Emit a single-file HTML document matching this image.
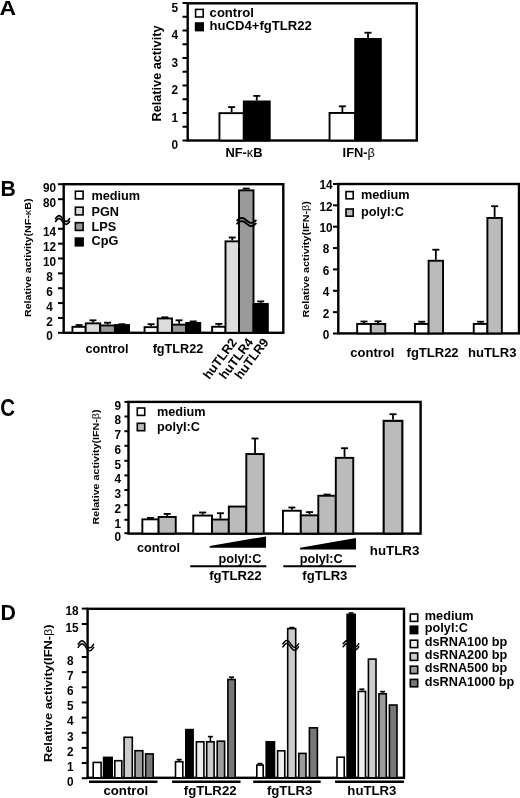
<!DOCTYPE html>
<html><head><meta charset="utf-8"><title>Figure</title>
<style>
html,body{margin:0;padding:0;background:#fff;}
body{width:520px;height:798px;overflow:hidden;}
svg{display:block;}
text{font-family:'Liberation Sans', Arial, sans-serif;font-weight:bold;fill:#000;}
</style></head>
<body>
<svg width="520" height="798" viewBox="0 0 520 798">
<rect width="520" height="798" fill="#fff"/>
<text transform="translate(-0.4,15.3) scale(1.12,1.03)" font-size="20.5">A</text>
<rect x="187.70" y="3.30" width="229.10" height="137.20" fill="none" stroke="#000" stroke-width="2.4"/>
<line x1="182.50" y1="140.50" x2="187.70" y2="140.50" stroke="#000" stroke-width="2.0"/>
<line x1="182.50" y1="126.75" x2="187.70" y2="126.75" stroke="#000" stroke-width="2.0"/>
<line x1="182.50" y1="113.00" x2="187.70" y2="113.00" stroke="#000" stroke-width="2.0"/>
<line x1="182.50" y1="99.25" x2="187.70" y2="99.25" stroke="#000" stroke-width="2.0"/>
<line x1="182.50" y1="85.50" x2="187.70" y2="85.50" stroke="#000" stroke-width="2.0"/>
<line x1="182.50" y1="71.75" x2="187.70" y2="71.75" stroke="#000" stroke-width="2.0"/>
<line x1="182.50" y1="58.00" x2="187.70" y2="58.00" stroke="#000" stroke-width="2.0"/>
<line x1="182.50" y1="44.25" x2="187.70" y2="44.25" stroke="#000" stroke-width="2.0"/>
<line x1="182.50" y1="30.50" x2="187.70" y2="30.50" stroke="#000" stroke-width="2.0"/>
<line x1="182.50" y1="16.75" x2="187.70" y2="16.75" stroke="#000" stroke-width="2.0"/>
<line x1="182.50" y1="3.00" x2="187.70" y2="3.00" stroke="#000" stroke-width="2.0"/>
<text transform="translate(174.80,149.00) scale(1,1.12)" font-size="11.8" text-anchor="middle">0</text>
<text transform="translate(174.80,121.50) scale(1,1.12)" font-size="11.8" text-anchor="middle">1</text>
<text transform="translate(174.80,94.00) scale(1,1.12)" font-size="11.8" text-anchor="middle">2</text>
<text transform="translate(174.80,66.50) scale(1,1.12)" font-size="11.8" text-anchor="middle">3</text>
<text transform="translate(174.80,39.00) scale(1,1.12)" font-size="11.8" text-anchor="middle">4</text>
<text transform="translate(174.80,11.50) scale(1,1.12)" font-size="11.8" text-anchor="middle">5</text>
<text transform="translate(160.60,73.50) rotate(-90)" font-size="12.7" text-anchor="middle">Relative activity</text>
<rect x="195.60" y="9.40" width="7.60" height="7.60" fill="#fff" stroke="#000" stroke-width="1.6"/>
<rect x="195.60" y="23.00" width="7.60" height="7.60" fill="#000" stroke="#000" stroke-width="1.6"/>
<text x="209.60" y="16.60" font-size="13.1" text-anchor="start" >control</text>
<text x="209.60" y="30.40" font-size="13.1" text-anchor="start" >huCD4+fgTLR22</text>
<line x1="231.62" y1="112.20" x2="231.62" y2="107.10" stroke="#000" stroke-width="1.8"/>
<line x1="228.12" y1="107.10" x2="235.12" y2="107.10" stroke="#000" stroke-width="1.8"/>
<rect x="219.45" y="113.15" width="24.35" height="27.35" fill="#fff" stroke="#000" stroke-width="1.9"/>
<line x1="256.77" y1="100.50" x2="256.77" y2="95.90" stroke="#000" stroke-width="1.8"/>
<line x1="253.27" y1="95.90" x2="260.27" y2="95.90" stroke="#000" stroke-width="1.8"/>
<rect x="243.80" y="101.45" width="25.95" height="39.05" fill="#000" stroke="#000" stroke-width="1.9"/>
<line x1="342.38" y1="112.00" x2="342.38" y2="106.30" stroke="#000" stroke-width="1.8"/>
<line x1="338.88" y1="106.30" x2="345.88" y2="106.30" stroke="#000" stroke-width="1.8"/>
<rect x="329.55" y="112.95" width="25.65" height="27.55" fill="#fff" stroke="#000" stroke-width="1.9"/>
<line x1="368.02" y1="38.00" x2="368.02" y2="32.70" stroke="#000" stroke-width="1.8"/>
<line x1="364.52" y1="32.70" x2="371.52" y2="32.70" stroke="#000" stroke-width="1.8"/>
<rect x="355.20" y="38.95" width="25.65" height="101.55" fill="#000" stroke="#000" stroke-width="1.9"/>
<text x="244.00" y="157.20" font-size="12.9" text-anchor="middle" >NF-<tspan font-weight="normal">κ</tspan>B</text>
<text x="358.80" y="157.40" font-size="12.9" text-anchor="middle" >IFN-<tspan font-weight="normal">β</tspan></text>
<text transform="translate(0.4,196.0) scale(1.02,1.08)" font-size="20.8">B</text>
<rect x="63.70" y="184.20" width="219.60" height="148.60" fill="none" stroke="#000" stroke-width="2.4"/>
<line x1="58.00" y1="332.80" x2="63.70" y2="332.80" stroke="#000" stroke-width="2.0"/>
<text transform="translate(49.50,340.40) scale(1,1.12)" font-size="11.8" text-anchor="middle">0</text>
<line x1="58.00" y1="317.94" x2="63.70" y2="317.94" stroke="#000" stroke-width="2.0"/>
<text transform="translate(49.50,325.54) scale(1,1.12)" font-size="11.8" text-anchor="middle">2</text>
<line x1="58.00" y1="303.08" x2="63.70" y2="303.08" stroke="#000" stroke-width="2.0"/>
<text transform="translate(49.50,310.68) scale(1,1.12)" font-size="11.8" text-anchor="middle">4</text>
<line x1="58.00" y1="288.22" x2="63.70" y2="288.22" stroke="#000" stroke-width="2.0"/>
<text transform="translate(49.50,295.82) scale(1,1.12)" font-size="11.8" text-anchor="middle">6</text>
<line x1="58.00" y1="273.36" x2="63.70" y2="273.36" stroke="#000" stroke-width="2.0"/>
<text transform="translate(49.50,280.96) scale(1,1.12)" font-size="11.8" text-anchor="middle">8</text>
<line x1="58.00" y1="258.50" x2="63.70" y2="258.50" stroke="#000" stroke-width="2.0"/>
<text transform="translate(49.50,266.10) scale(1,1.12)" font-size="11.8" text-anchor="middle">10</text>
<line x1="58.00" y1="243.64" x2="63.70" y2="243.64" stroke="#000" stroke-width="2.0"/>
<text transform="translate(49.50,251.24) scale(1,1.12)" font-size="11.8" text-anchor="middle">12</text>
<line x1="58.00" y1="228.78" x2="63.70" y2="228.78" stroke="#000" stroke-width="2.0"/>
<text transform="translate(49.50,236.38) scale(1,1.12)" font-size="11.8" text-anchor="middle">14</text>
<line x1="58.00" y1="199.20" x2="63.70" y2="199.20" stroke="#000" stroke-width="2.0"/>
<text transform="translate(49.50,206.80) scale(1,1.12)" font-size="11.8" text-anchor="middle">80</text>
<line x1="58.00" y1="184.20" x2="63.70" y2="184.20" stroke="#000" stroke-width="2.0"/>
<text transform="translate(49.50,191.80) scale(1,1.12)" font-size="11.8" text-anchor="middle">90</text>
<polyline points="55.60,218.60 56.18,217.85 56.77,217.15 57.35,216.55 57.93,216.09 58.52,215.80 59.10,215.70 59.68,215.80 60.27,216.09 60.85,216.55 61.43,217.15 62.02,217.85 62.60,218.60 63.18,219.35 63.77,220.05 64.35,220.65 64.93,221.11 65.52,221.40 66.10,221.50 66.68,221.40 67.27,221.11 67.85,220.65 68.43,220.05 69.02,219.35 69.60,218.60" fill="none" stroke="#000" stroke-width="1.7" stroke-linecap="round" stroke-linejoin="round"/>
<polyline points="55.60,221.40 56.18,220.65 56.77,219.95 57.35,219.35 57.93,218.89 58.52,218.60 59.10,218.50 59.68,218.60 60.27,218.89 60.85,219.35 61.43,219.95 62.02,220.65 62.60,221.40 63.18,222.15 63.77,222.85 64.35,223.45 64.93,223.91 65.52,224.20 66.10,224.30 66.68,224.20 67.27,223.91 67.85,223.45 68.43,222.85 69.02,222.15 69.60,221.40" fill="none" stroke="#000" stroke-width="1.7" stroke-linecap="round" stroke-linejoin="round"/>
<text transform="translate(30.80,257.80) rotate(-90)" font-size="9.4" text-anchor="middle" textLength="118.5" lengthAdjust="spacingAndGlyphs">Relative activity(NF-<tspan font-weight="normal">κ</tspan>B)</text>
<rect x="75.40" y="191.20" width="7.70" height="7.70" fill="#fff" stroke="#000" stroke-width="1.6"/>
<text x="91.50" y="199.80" font-size="12.7" text-anchor="start" >medium</text>
<rect x="75.40" y="207.20" width="7.70" height="7.70" fill="#dcdcdc" stroke="#000" stroke-width="1.6"/>
<text x="91.50" y="215.60" font-size="12.7" text-anchor="start" >PGN</text>
<rect x="75.40" y="222.70" width="7.70" height="7.70" fill="#9a9a9a" stroke="#000" stroke-width="1.6"/>
<text x="91.50" y="230.60" font-size="12.7" text-anchor="start" >LPS</text>
<rect x="75.40" y="238.10" width="7.70" height="7.70" fill="#000" stroke="#000" stroke-width="1.6"/>
<text x="91.50" y="245.30" font-size="12.7" text-anchor="start" >CpG</text>
<line x1="79.08" y1="325.90" x2="79.08" y2="325.00" stroke="#000" stroke-width="1.8"/>
<line x1="75.58" y1="325.00" x2="82.58" y2="325.00" stroke="#000" stroke-width="1.8"/>
<rect x="72.45" y="326.85" width="13.25" height="5.95" fill="#fff" stroke="#000" stroke-width="1.9"/>
<line x1="92.95" y1="322.40" x2="92.95" y2="320.30" stroke="#000" stroke-width="1.8"/>
<line x1="89.45" y1="320.30" x2="96.45" y2="320.30" stroke="#000" stroke-width="1.8"/>
<rect x="85.70" y="323.35" width="14.50" height="9.45" fill="#dcdcdc" stroke="#000" stroke-width="1.9"/>
<line x1="107.55" y1="324.50" x2="107.55" y2="322.70" stroke="#000" stroke-width="1.8"/>
<line x1="104.05" y1="322.70" x2="111.05" y2="322.70" stroke="#000" stroke-width="1.8"/>
<rect x="100.20" y="325.45" width="14.70" height="7.35" fill="#9a9a9a" stroke="#000" stroke-width="1.9"/>
<line x1="121.97" y1="324.10" x2="121.97" y2="324.20" stroke="#000" stroke-width="1.8"/>
<line x1="118.47" y1="324.20" x2="125.47" y2="324.20" stroke="#000" stroke-width="1.8"/>
<rect x="114.90" y="325.05" width="14.15" height="7.75" fill="#000" stroke="#000" stroke-width="1.9"/>
<line x1="151.12" y1="326.20" x2="151.12" y2="324.20" stroke="#000" stroke-width="1.8"/>
<line x1="147.62" y1="324.20" x2="154.62" y2="324.20" stroke="#000" stroke-width="1.8"/>
<rect x="144.55" y="327.15" width="13.15" height="5.65" fill="#fff" stroke="#000" stroke-width="1.9"/>
<line x1="164.85" y1="317.50" x2="164.85" y2="317.30" stroke="#000" stroke-width="1.8"/>
<line x1="161.35" y1="317.30" x2="168.35" y2="317.30" stroke="#000" stroke-width="1.8"/>
<rect x="157.70" y="318.45" width="14.30" height="14.35" fill="#dcdcdc" stroke="#000" stroke-width="1.9"/>
<line x1="179.10" y1="323.70" x2="179.10" y2="320.30" stroke="#000" stroke-width="1.8"/>
<line x1="175.60" y1="320.30" x2="182.60" y2="320.30" stroke="#000" stroke-width="1.8"/>
<rect x="172.00" y="324.65" width="14.20" height="8.15" fill="#9a9a9a" stroke="#000" stroke-width="1.9"/>
<line x1="193.22" y1="322.00" x2="193.22" y2="321.40" stroke="#000" stroke-width="1.8"/>
<line x1="189.72" y1="321.40" x2="196.72" y2="321.40" stroke="#000" stroke-width="1.8"/>
<rect x="186.20" y="322.95" width="14.05" height="9.85" fill="#000" stroke="#000" stroke-width="1.9"/>
<line x1="218.82" y1="325.80" x2="218.82" y2="323.90" stroke="#000" stroke-width="1.8"/>
<line x1="215.32" y1="323.90" x2="222.32" y2="323.90" stroke="#000" stroke-width="1.8"/>
<rect x="212.15" y="326.75" width="13.35" height="6.05" fill="#fff" stroke="#000" stroke-width="1.9"/>
<line x1="232.25" y1="240.40" x2="232.25" y2="237.50" stroke="#000" stroke-width="1.8"/>
<line x1="228.75" y1="237.50" x2="235.75" y2="237.50" stroke="#000" stroke-width="1.8"/>
<rect x="225.50" y="241.35" width="13.50" height="91.45" fill="#dcdcdc" stroke="#000" stroke-width="1.9"/>
<line x1="246.25" y1="189.40" x2="246.25" y2="188.50" stroke="#000" stroke-width="1.8"/>
<line x1="242.75" y1="188.50" x2="249.75" y2="188.50" stroke="#000" stroke-width="1.8"/>
<rect x="239.00" y="190.35" width="14.50" height="142.45" fill="#9a9a9a" stroke="#000" stroke-width="1.9"/>
<line x1="260.68" y1="303.00" x2="260.68" y2="301.40" stroke="#000" stroke-width="1.8"/>
<line x1="257.18" y1="301.40" x2="264.18" y2="301.40" stroke="#000" stroke-width="1.8"/>
<rect x="253.50" y="303.95" width="14.35" height="28.85" fill="#000" stroke="#000" stroke-width="1.9"/>
<polyline points="237.20,220.40 237.97,219.75 238.75,219.15 239.52,218.63 240.30,218.23 241.07,217.99 241.85,217.90 242.62,217.99 243.40,218.23 244.18,218.63 244.95,219.15 245.72,219.75 246.50,220.40 247.28,221.05 248.05,221.65 248.82,222.17 249.60,222.57 250.38,222.81 251.15,222.90 251.93,222.81 252.70,222.57 253.48,222.17 254.25,221.65 255.03,221.05 255.80,220.40" fill="none" stroke="#000" stroke-width="1.9" stroke-linecap="round" stroke-linejoin="round"/>
<polyline points="237.20,223.60 237.97,222.95 238.75,222.35 239.52,221.83 240.30,221.43 241.07,221.19 241.85,221.10 242.62,221.19 243.40,221.43 244.18,221.83 244.95,222.35 245.72,222.95 246.50,223.60 247.28,224.25 248.05,224.85 248.82,225.37 249.60,225.77 250.38,226.01 251.15,226.10 251.93,226.01 252.70,225.77 253.48,225.37 254.25,224.85 255.03,224.25 255.80,223.60" fill="none" stroke="#000" stroke-width="1.9" stroke-linecap="round" stroke-linejoin="round"/>
<text x="107.00" y="353.00" font-size="12.7" text-anchor="middle" >control</text>
<text x="178.00" y="353.00" font-size="12.7" text-anchor="middle" >fgTLR22</text>
<text transform="translate(237.60,342.40) rotate(-53)" font-size="12.7" text-anchor="end">huTLR2</text>
<text transform="translate(253.80,342.40) rotate(-53)" font-size="12.7" text-anchor="end">huTLR4</text>
<text transform="translate(269.20,342.40) rotate(-53)" font-size="12.7" text-anchor="end">huTLR9</text>
<rect x="338.30" y="184.00" width="180.70" height="149.40" fill="none" stroke="#000" stroke-width="2.4"/>
<line x1="333.00" y1="333.50" x2="338.30" y2="333.50" stroke="#000" stroke-width="2.0"/>
<text transform="translate(326.00,338.90) scale(1,1.12)" font-size="11.8" text-anchor="middle">0</text>
<line x1="333.00" y1="312.14" x2="338.30" y2="312.14" stroke="#000" stroke-width="2.0"/>
<text transform="translate(326.00,317.54) scale(1,1.12)" font-size="11.8" text-anchor="middle">2</text>
<line x1="333.00" y1="290.78" x2="338.30" y2="290.78" stroke="#000" stroke-width="2.0"/>
<text transform="translate(326.00,296.18) scale(1,1.12)" font-size="11.8" text-anchor="middle">4</text>
<line x1="333.00" y1="269.42" x2="338.30" y2="269.42" stroke="#000" stroke-width="2.0"/>
<text transform="translate(326.00,274.82) scale(1,1.12)" font-size="11.8" text-anchor="middle">6</text>
<line x1="333.00" y1="248.06" x2="338.30" y2="248.06" stroke="#000" stroke-width="2.0"/>
<text transform="translate(326.00,253.46) scale(1,1.12)" font-size="11.8" text-anchor="middle">8</text>
<line x1="333.00" y1="226.70" x2="338.30" y2="226.70" stroke="#000" stroke-width="2.0"/>
<text transform="translate(326.00,232.10) scale(1,1.12)" font-size="11.8" text-anchor="middle">10</text>
<line x1="333.00" y1="205.34" x2="338.30" y2="205.34" stroke="#000" stroke-width="2.0"/>
<text transform="translate(326.00,210.74) scale(1,1.12)" font-size="11.8" text-anchor="middle">12</text>
<line x1="333.00" y1="183.98" x2="338.30" y2="183.98" stroke="#000" stroke-width="2.0"/>
<text transform="translate(326.00,189.38) scale(1,1.12)" font-size="11.8" text-anchor="middle">14</text>
<text transform="translate(309.30,259.30) rotate(-90)" font-size="9.6" text-anchor="middle" textLength="116.5" lengthAdjust="spacingAndGlyphs">Relative activity(IFN-<tspan font-weight="normal">β</tspan>)</text>
<rect x="346.00" y="191.60" width="7.20" height="7.20" fill="#fff" stroke="#000" stroke-width="1.6"/>
<rect x="346.00" y="209.00" width="7.20" height="7.20" fill="#bbb" stroke="#000" stroke-width="1.6"/>
<text x="361.00" y="199.20" font-size="12.7" text-anchor="start" >medium</text>
<text x="361.00" y="216.30" font-size="12.7" text-anchor="start" >polyI:C</text>
<line x1="363.98" y1="323.00" x2="363.98" y2="321.50" stroke="#000" stroke-width="1.8"/>
<line x1="360.48" y1="321.50" x2="367.48" y2="321.50" stroke="#000" stroke-width="1.8"/>
<rect x="357.15" y="323.95" width="13.65" height="9.45" fill="#fff" stroke="#000" stroke-width="1.9"/>
<line x1="378.02" y1="323.00" x2="378.02" y2="321.30" stroke="#000" stroke-width="1.8"/>
<line x1="374.52" y1="321.30" x2="381.52" y2="321.30" stroke="#000" stroke-width="1.8"/>
<rect x="370.80" y="323.95" width="14.45" height="9.45" fill="#bbb" stroke="#000" stroke-width="1.9"/>
<line x1="421.77" y1="323.00" x2="421.77" y2="321.70" stroke="#000" stroke-width="1.8"/>
<line x1="418.27" y1="321.70" x2="425.27" y2="321.70" stroke="#000" stroke-width="1.8"/>
<rect x="414.95" y="323.95" width="13.65" height="9.45" fill="#fff" stroke="#000" stroke-width="1.9"/>
<line x1="435.83" y1="259.80" x2="435.83" y2="249.70" stroke="#000" stroke-width="1.8"/>
<line x1="432.33" y1="249.70" x2="439.33" y2="249.70" stroke="#000" stroke-width="1.8"/>
<rect x="428.60" y="260.75" width="14.45" height="72.65" fill="#bbb" stroke="#000" stroke-width="1.9"/>
<line x1="480.58" y1="323.00" x2="480.58" y2="321.70" stroke="#000" stroke-width="1.8"/>
<line x1="477.08" y1="321.70" x2="484.08" y2="321.70" stroke="#000" stroke-width="1.8"/>
<rect x="473.75" y="323.95" width="13.65" height="9.45" fill="#fff" stroke="#000" stroke-width="1.9"/>
<line x1="494.62" y1="217.00" x2="494.62" y2="206.20" stroke="#000" stroke-width="1.8"/>
<line x1="491.12" y1="206.20" x2="498.12" y2="206.20" stroke="#000" stroke-width="1.8"/>
<rect x="487.40" y="217.95" width="14.45" height="115.45" fill="#bbb" stroke="#000" stroke-width="1.9"/>
<text x="372.40" y="357.00" font-size="13.0" text-anchor="middle" >control</text>
<text x="432.60" y="357.00" font-size="13.0" text-anchor="middle" >fgTLR22</text>
<text x="492.20" y="357.00" font-size="13.0" text-anchor="middle" >huTLR3</text>
<text transform="translate(0.3,415.9) scale(1.0,1.13)" font-size="20.5">C</text>
<rect x="128.50" y="401.90" width="292.10" height="131.70" fill="none" stroke="#000" stroke-width="2.4"/>
<line x1="124.40" y1="533.20" x2="128.50" y2="533.20" stroke="#000" stroke-width="2.0"/>
<text transform="translate(117.80,541.10) scale(1,1.12)" font-size="11.8" text-anchor="middle">0</text>
<line x1="124.40" y1="519.80" x2="128.50" y2="519.80" stroke="#000" stroke-width="2.0"/>
<text transform="translate(117.80,527.70) scale(1,1.12)" font-size="11.8" text-anchor="middle">1</text>
<line x1="124.40" y1="505.10" x2="128.50" y2="505.10" stroke="#000" stroke-width="2.0"/>
<text transform="translate(117.80,513.00) scale(1,1.12)" font-size="11.8" text-anchor="middle">2</text>
<line x1="124.40" y1="490.00" x2="128.50" y2="490.00" stroke="#000" stroke-width="2.0"/>
<text transform="translate(117.80,497.90) scale(1,1.12)" font-size="11.8" text-anchor="middle">3</text>
<line x1="124.40" y1="475.40" x2="128.50" y2="475.40" stroke="#000" stroke-width="2.0"/>
<text transform="translate(117.80,483.30) scale(1,1.12)" font-size="11.8" text-anchor="middle">4</text>
<line x1="124.40" y1="460.80" x2="128.50" y2="460.80" stroke="#000" stroke-width="2.0"/>
<text transform="translate(117.80,468.70) scale(1,1.12)" font-size="11.8" text-anchor="middle">5</text>
<line x1="124.40" y1="445.80" x2="128.50" y2="445.80" stroke="#000" stroke-width="2.0"/>
<text transform="translate(117.80,453.70) scale(1,1.12)" font-size="11.8" text-anchor="middle">6</text>
<line x1="124.40" y1="431.20" x2="128.50" y2="431.20" stroke="#000" stroke-width="2.0"/>
<text transform="translate(117.80,439.10) scale(1,1.12)" font-size="11.8" text-anchor="middle">7</text>
<line x1="124.40" y1="416.50" x2="128.50" y2="416.50" stroke="#000" stroke-width="2.0"/>
<text transform="translate(117.80,424.40) scale(1,1.12)" font-size="11.8" text-anchor="middle">8</text>
<line x1="124.40" y1="401.90" x2="128.50" y2="401.90" stroke="#000" stroke-width="2.0"/>
<text transform="translate(117.80,409.80) scale(1,1.12)" font-size="11.8" text-anchor="middle">9</text>
<text transform="translate(99.40,467.00) rotate(-90)" font-size="9.0" text-anchor="middle" textLength="115" lengthAdjust="spacingAndGlyphs">Relative activity(IFN-<tspan font-weight="normal">β</tspan>)</text>
<rect x="137.30" y="408.00" width="7.40" height="7.40" fill="#fff" stroke="#000" stroke-width="1.6"/>
<rect x="137.30" y="423.30" width="7.40" height="7.40" fill="#bbbbbb" stroke="#000" stroke-width="1.6"/>
<text x="157.00" y="415.80" font-size="12.7" text-anchor="start" >medium</text>
<text x="157.00" y="431.20" font-size="12.7" text-anchor="start" >polyI:C</text>
<line x1="150.47" y1="518.40" x2="150.47" y2="517.90" stroke="#000" stroke-width="1.8"/>
<line x1="146.97" y1="517.90" x2="153.97" y2="517.90" stroke="#000" stroke-width="1.8"/>
<rect x="142.35" y="519.35" width="16.25" height="14.25" fill="#fff" stroke="#000" stroke-width="1.9"/>
<line x1="167.18" y1="516.00" x2="167.18" y2="513.90" stroke="#000" stroke-width="1.8"/>
<line x1="163.68" y1="513.90" x2="170.68" y2="513.90" stroke="#000" stroke-width="1.8"/>
<rect x="158.60" y="516.95" width="17.15" height="16.65" fill="#bbbbbb" stroke="#000" stroke-width="1.9"/>
<line x1="202.62" y1="514.60" x2="202.62" y2="512.50" stroke="#000" stroke-width="1.8"/>
<line x1="199.12" y1="512.50" x2="206.12" y2="512.50" stroke="#000" stroke-width="1.8"/>
<rect x="193.25" y="515.55" width="18.75" height="18.05" fill="#fff" stroke="#000" stroke-width="1.9"/>
<line x1="220.40" y1="518.60" x2="220.40" y2="513.20" stroke="#000" stroke-width="1.8"/>
<line x1="216.90" y1="513.20" x2="223.90" y2="513.20" stroke="#000" stroke-width="1.8"/>
<rect x="212.00" y="519.55" width="16.80" height="14.05" fill="#bbbbbb" stroke="#000" stroke-width="1.9"/>
<rect x="228.80" y="506.55" width="17.50" height="27.05" fill="#bbbbbb" stroke="#000" stroke-width="1.9"/>
<line x1="255.03" y1="453.10" x2="255.03" y2="438.50" stroke="#000" stroke-width="1.8"/>
<line x1="251.53" y1="438.50" x2="258.52" y2="438.50" stroke="#000" stroke-width="1.8"/>
<rect x="246.30" y="454.05" width="17.45" height="79.55" fill="#bbbbbb" stroke="#000" stroke-width="1.9"/>
<line x1="291.88" y1="509.80" x2="291.88" y2="507.50" stroke="#000" stroke-width="1.8"/>
<line x1="288.38" y1="507.50" x2="295.38" y2="507.50" stroke="#000" stroke-width="1.8"/>
<rect x="282.95" y="510.75" width="17.85" height="22.85" fill="#fff" stroke="#000" stroke-width="1.9"/>
<line x1="309.55" y1="514.40" x2="309.55" y2="512.10" stroke="#000" stroke-width="1.8"/>
<line x1="306.05" y1="512.10" x2="313.05" y2="512.10" stroke="#000" stroke-width="1.8"/>
<rect x="300.80" y="515.35" width="17.50" height="18.25" fill="#bbbbbb" stroke="#000" stroke-width="1.9"/>
<line x1="327.05" y1="494.80" x2="327.05" y2="494.50" stroke="#000" stroke-width="1.8"/>
<line x1="323.55" y1="494.50" x2="330.55" y2="494.50" stroke="#000" stroke-width="1.8"/>
<rect x="318.30" y="495.75" width="17.50" height="37.85" fill="#bbbbbb" stroke="#000" stroke-width="1.9"/>
<line x1="344.52" y1="456.90" x2="344.52" y2="448.20" stroke="#000" stroke-width="1.8"/>
<line x1="341.02" y1="448.20" x2="348.02" y2="448.20" stroke="#000" stroke-width="1.8"/>
<rect x="335.80" y="457.85" width="17.45" height="75.75" fill="#bbbbbb" stroke="#000" stroke-width="1.9"/>
<line x1="393.00" y1="419.80" x2="393.00" y2="414.20" stroke="#000" stroke-width="1.8"/>
<line x1="389.50" y1="414.20" x2="396.50" y2="414.20" stroke="#000" stroke-width="1.8"/>
<rect x="383.65" y="420.85" width="18.70" height="112.75" fill="#bbbbbb" stroke="#000" stroke-width="2.1"/>
<text x="137.00" y="552.00" font-size="12.7" text-anchor="start" >control</text>
<polygon points="209.7,546.0 266.0,536.4 266.0,547.8 209.7,547.8" fill="#000"/>
<text x="218.40" y="562.60" font-size="12.7" text-anchor="start" >polyI:C</text>
<line x1="190.20" y1="566.20" x2="266.30" y2="566.20" stroke="#000" stroke-width="2.0"/>
<text x="209.20" y="579.80" font-size="13.1" text-anchor="start" >fgTLR22</text>
<polygon points="300.1,547.8 356.0,538.1 356.0,549.6 300.1,549.6" fill="#000"/>
<text x="299.70" y="562.60" font-size="12.7" text-anchor="start" >polyI:C</text>
<line x1="283.30" y1="566.20" x2="356.00" y2="566.20" stroke="#000" stroke-width="2.0"/>
<text x="302.30" y="579.80" font-size="13.1" text-anchor="start" >fgTLR3</text>
<text x="369.80" y="555.20" font-size="13.3" text-anchor="start" >huTLR3</text>
<text transform="translate(0.4,620.3) scale(1.04,1.08)" font-size="20.5">D</text>
<rect x="87.60" y="608.80" width="316.40" height="169.00" fill="none" stroke="#000" stroke-width="2.4"/>
<line x1="81.80" y1="778.20" x2="87.60" y2="778.20" stroke="#000" stroke-width="2.0"/>
<text transform="translate(70.40,786.00) scale(1,1.12)" font-size="11.8" text-anchor="middle">0</text>
<line x1="81.80" y1="763.05" x2="87.60" y2="763.05" stroke="#000" stroke-width="2.0"/>
<text transform="translate(70.40,770.85) scale(1,1.12)" font-size="11.8" text-anchor="middle">1</text>
<line x1="81.80" y1="747.90" x2="87.60" y2="747.90" stroke="#000" stroke-width="2.0"/>
<text transform="translate(70.40,755.70) scale(1,1.12)" font-size="11.8" text-anchor="middle">2</text>
<line x1="81.80" y1="732.75" x2="87.60" y2="732.75" stroke="#000" stroke-width="2.0"/>
<text transform="translate(70.40,740.55) scale(1,1.12)" font-size="11.8" text-anchor="middle">3</text>
<line x1="81.80" y1="717.60" x2="87.60" y2="717.60" stroke="#000" stroke-width="2.0"/>
<text transform="translate(70.40,725.40) scale(1,1.12)" font-size="11.8" text-anchor="middle">4</text>
<line x1="81.80" y1="702.45" x2="87.60" y2="702.45" stroke="#000" stroke-width="2.0"/>
<text transform="translate(70.40,710.25) scale(1,1.12)" font-size="11.8" text-anchor="middle">5</text>
<line x1="81.80" y1="687.30" x2="87.60" y2="687.30" stroke="#000" stroke-width="2.0"/>
<text transform="translate(70.40,695.10) scale(1,1.12)" font-size="11.8" text-anchor="middle">6</text>
<line x1="81.80" y1="672.15" x2="87.60" y2="672.15" stroke="#000" stroke-width="2.0"/>
<text transform="translate(70.40,679.95) scale(1,1.12)" font-size="11.8" text-anchor="middle">7</text>
<line x1="81.80" y1="657.00" x2="87.60" y2="657.00" stroke="#000" stroke-width="2.0"/>
<text transform="translate(70.40,664.80) scale(1,1.12)" font-size="11.8" text-anchor="middle">8</text>
<line x1="81.80" y1="624.00" x2="87.60" y2="624.00" stroke="#000" stroke-width="2.0"/>
<text transform="translate(72.00,631.80) scale(1,1.12)" font-size="11.8" text-anchor="middle">15</text>
<line x1="81.80" y1="608.61" x2="87.60" y2="608.61" stroke="#000" stroke-width="2.0"/>
<text transform="translate(72.00,615.20) scale(1,1.12)" font-size="11.8" text-anchor="middle">18</text>
<polyline points="78.20,644.30 78.84,643.39 79.48,642.55 80.12,641.83 80.77,641.27 81.41,640.92 82.05,640.80 82.69,640.92 83.33,641.27 83.97,641.83 84.62,642.55 85.26,643.39 85.90,644.30 86.54,645.21 87.18,646.05 87.83,646.77 88.47,647.33 89.11,647.68 89.75,647.80 90.39,647.68 91.03,647.33 91.67,646.77 92.32,646.05 92.96,645.21 93.60,644.30" fill="none" stroke="#000" stroke-width="1.5" stroke-linecap="round" stroke-linejoin="round"/>
<polyline points="78.20,647.30 78.84,646.39 79.48,645.55 80.12,644.83 80.77,644.27 81.41,643.92 82.05,643.80 82.69,643.92 83.33,644.27 83.97,644.83 84.62,645.55 85.26,646.39 85.90,647.30 86.54,648.21 87.18,649.05 87.83,649.77 88.47,650.33 89.11,650.68 89.75,650.80 90.39,650.68 91.03,650.33 91.67,649.77 92.32,649.05 92.96,648.21 93.60,647.30" fill="none" stroke="#000" stroke-width="1.5" stroke-linecap="round" stroke-linejoin="round"/>
<text transform="translate(51.80,693.20) rotate(-90)" font-size="11.2" text-anchor="middle" textLength="137.6" lengthAdjust="spacingAndGlyphs">Relative activity(IFN-<tspan font-weight="normal">β</tspan>)</text>
<rect x="410.30" y="614.00" width="7.40" height="7.40" fill="#fff" stroke="#000" stroke-width="1.6"/>
<text x="424.80" y="620.00" font-size="12.7" text-anchor="start" >medium</text>
<rect x="410.30" y="626.20" width="7.40" height="7.40" fill="#000" stroke="#000" stroke-width="1.6"/>
<text x="424.80" y="632.20" font-size="12.7" text-anchor="start" >polyI:C</text>
<rect x="410.30" y="640.20" width="7.40" height="7.40" fill="#efefef" stroke="#000" stroke-width="1.6"/>
<text x="424.80" y="646.00" font-size="12.7" text-anchor="start" >dsRNA100 bp</text>
<rect x="410.30" y="653.00" width="7.40" height="7.40" fill="#cccccc" stroke="#000" stroke-width="1.6"/>
<text x="424.80" y="659.20" font-size="12.7" text-anchor="start" >dsRNA200 bp</text>
<rect x="410.30" y="666.20" width="7.40" height="7.40" fill="#9c9c9c" stroke="#000" stroke-width="1.6"/>
<text x="424.80" y="672.00" font-size="12.7" text-anchor="start" >dsRNA500 bp</text>
<rect x="410.30" y="679.40" width="7.40" height="7.40" fill="#777" stroke="#000" stroke-width="1.6"/>
<text x="424.80" y="685.80" font-size="12.7" text-anchor="start" >dsRNA1000 bp</text>
<rect x="93.20" y="762.40" width="7.90" height="15.40" fill="#fff" stroke="#000" stroke-width="1.6"/>
<rect x="103.60" y="757.40" width="8.60" height="20.40" fill="#000" stroke="#000" stroke-width="1.6"/>
<rect x="114.80" y="760.70" width="7.00" height="17.10" fill="#efefef" stroke="#000" stroke-width="1.6"/>
<rect x="124.10" y="737.30" width="8.20" height="40.50" fill="#cccccc" stroke="#000" stroke-width="1.6"/>
<rect x="135.00" y="750.70" width="7.80" height="27.10" fill="#9c9c9c" stroke="#000" stroke-width="1.6"/>
<rect x="145.60" y="753.90" width="7.60" height="23.90" fill="#777" stroke="#000" stroke-width="1.6"/>
<line x1="179.15" y1="760.90" x2="179.15" y2="759.60" stroke="#000" stroke-width="1.6"/>
<line x1="176.65" y1="759.60" x2="181.65" y2="759.60" stroke="#000" stroke-width="1.6"/>
<rect x="175.50" y="761.70" width="7.30" height="16.10" fill="#fff" stroke="#000" stroke-width="1.6"/>
<rect x="185.80" y="729.60" width="7.30" height="48.20" fill="#000" stroke="#000" stroke-width="1.6"/>
<rect x="196.40" y="741.80" width="7.50" height="36.00" fill="#efefef" stroke="#000" stroke-width="1.6"/>
<line x1="210.40" y1="741.00" x2="210.40" y2="736.60" stroke="#000" stroke-width="1.6"/>
<line x1="207.90" y1="736.60" x2="212.90" y2="736.60" stroke="#000" stroke-width="1.6"/>
<rect x="206.70" y="741.80" width="7.40" height="36.00" fill="#cccccc" stroke="#000" stroke-width="1.6"/>
<rect x="217.20" y="741.20" width="7.40" height="36.60" fill="#9c9c9c" stroke="#000" stroke-width="1.6"/>
<line x1="231.55" y1="678.70" x2="231.55" y2="677.20" stroke="#000" stroke-width="1.6"/>
<line x1="229.05" y1="677.20" x2="234.05" y2="677.20" stroke="#000" stroke-width="1.6"/>
<rect x="227.90" y="679.50" width="7.30" height="98.30" fill="#777" stroke="#000" stroke-width="1.6"/>
<line x1="260.00" y1="764.30" x2="260.00" y2="763.60" stroke="#000" stroke-width="1.6"/>
<line x1="257.50" y1="763.60" x2="262.50" y2="763.60" stroke="#000" stroke-width="1.6"/>
<rect x="256.80" y="765.10" width="6.40" height="12.70" fill="#fff" stroke="#000" stroke-width="1.6"/>
<rect x="266.20" y="741.80" width="8.30" height="36.00" fill="#000" stroke="#000" stroke-width="1.6"/>
<rect x="277.60" y="750.80" width="7.20" height="27.00" fill="#efefef" stroke="#000" stroke-width="1.6"/>
<line x1="291.70" y1="627.80" x2="291.70" y2="627.60" stroke="#000" stroke-width="1.6"/>
<line x1="289.20" y1="627.60" x2="294.20" y2="627.60" stroke="#000" stroke-width="1.6"/>
<rect x="287.70" y="628.60" width="8.00" height="149.20" fill="#cccccc" stroke="#000" stroke-width="1.6"/>
<rect x="298.80" y="753.40" width="7.20" height="24.40" fill="#9c9c9c" stroke="#000" stroke-width="1.6"/>
<rect x="309.40" y="727.80" width="8.00" height="50.00" fill="#777" stroke="#000" stroke-width="1.6"/>
<rect x="337.00" y="757.20" width="7.20" height="20.60" fill="#fff" stroke="#000" stroke-width="1.6"/>
<line x1="351.15" y1="613.60" x2="351.15" y2="613.00" stroke="#000" stroke-width="1.6"/>
<line x1="348.65" y1="613.00" x2="353.65" y2="613.00" stroke="#000" stroke-width="1.6"/>
<rect x="347.10" y="614.40" width="8.10" height="163.40" fill="#000" stroke="#000" stroke-width="1.6"/>
<line x1="361.90" y1="690.60" x2="361.90" y2="689.20" stroke="#000" stroke-width="1.6"/>
<line x1="359.40" y1="689.20" x2="364.40" y2="689.20" stroke="#000" stroke-width="1.6"/>
<rect x="358.30" y="691.40" width="7.20" height="86.40" fill="#efefef" stroke="#000" stroke-width="1.6"/>
<rect x="368.40" y="659.10" width="7.60" height="118.70" fill="#cccccc" stroke="#000" stroke-width="1.6"/>
<line x1="382.60" y1="693.00" x2="382.60" y2="691.60" stroke="#000" stroke-width="1.6"/>
<line x1="380.10" y1="691.60" x2="385.10" y2="691.60" stroke="#000" stroke-width="1.6"/>
<rect x="378.90" y="693.80" width="7.40" height="84.00" fill="#9c9c9c" stroke="#000" stroke-width="1.6"/>
<rect x="389.40" y="705.00" width="7.60" height="72.80" fill="#777" stroke="#000" stroke-width="1.6"/>
<polyline points="282.90,643.90 283.55,643.02 284.20,642.20 284.85,641.50 285.50,640.96 286.15,640.62 286.80,640.50 287.45,640.62 288.10,640.96 288.75,641.50 289.40,642.20 290.05,643.02 290.70,643.90 291.35,644.78 292.00,645.60 292.65,646.30 293.30,646.84 293.95,647.18 294.60,647.30 295.25,647.18 295.90,646.84 296.55,646.30 297.20,645.60 297.85,644.78 298.50,643.90" fill="none" stroke="#000" stroke-width="1.5" stroke-linecap="round" stroke-linejoin="round"/>
<polyline points="282.90,646.90 283.55,646.02 284.20,645.20 284.85,644.50 285.50,643.96 286.15,643.62 286.80,643.50 287.45,643.62 288.10,643.96 288.75,644.50 289.40,645.20 290.05,646.02 290.70,646.90 291.35,647.78 292.00,648.60 292.65,649.30 293.30,649.84 293.95,650.18 294.60,650.30 295.25,650.18 295.90,649.84 296.55,649.30 297.20,648.60 297.85,647.78 298.50,646.90" fill="none" stroke="#000" stroke-width="1.5" stroke-linecap="round" stroke-linejoin="round"/>
<polyline points="343.20,643.80 343.85,642.97 344.50,642.20 345.15,641.54 345.80,641.03 346.45,640.71 347.10,640.60 347.75,640.71 348.40,641.03 349.05,641.54 349.70,642.20 350.35,642.97 351.00,643.80 351.65,644.63 352.30,645.40 352.95,646.06 353.60,646.57 354.25,646.89 354.90,647.00 355.55,646.89 356.20,646.57 356.85,646.06 357.50,645.40 358.15,644.63 358.80,643.80" fill="none" stroke="#000" stroke-width="1.5" stroke-linecap="round" stroke-linejoin="round"/>
<polyline points="343.20,646.80 343.85,645.97 344.50,645.20 345.15,644.54 345.80,644.03 346.45,643.71 347.10,643.60 347.75,643.71 348.40,644.03 349.05,644.54 349.70,645.20 350.35,645.97 351.00,646.80 351.65,647.63 352.30,648.40 352.95,649.06 353.60,649.57 354.25,649.89 354.90,650.00 355.55,649.89 356.20,649.57 356.85,649.06 357.50,648.40 358.15,647.63 358.80,646.80" fill="none" stroke="#000" stroke-width="1.5" stroke-linecap="round" stroke-linejoin="round"/>
<line x1="89.00" y1="781.80" x2="157.50" y2="781.80" stroke="#000" stroke-width="2.6"/>
<text x="125.80" y="794.50" font-size="13.2" text-anchor="middle" >control</text>
<line x1="172.10" y1="781.80" x2="240.50" y2="781.80" stroke="#000" stroke-width="2.6"/>
<text x="210.20" y="794.50" font-size="13.2" text-anchor="middle" >fgTLR22</text>
<line x1="253.20" y1="781.80" x2="320.70" y2="781.80" stroke="#000" stroke-width="2.6"/>
<text x="289.60" y="794.50" font-size="13.2" text-anchor="middle" >fgTLR3</text>
<line x1="335.00" y1="781.80" x2="404.00" y2="781.80" stroke="#000" stroke-width="2.6"/>
<text x="371.90" y="794.50" font-size="13.2" text-anchor="middle" >huTLR3</text>
</svg>
</body></html>
